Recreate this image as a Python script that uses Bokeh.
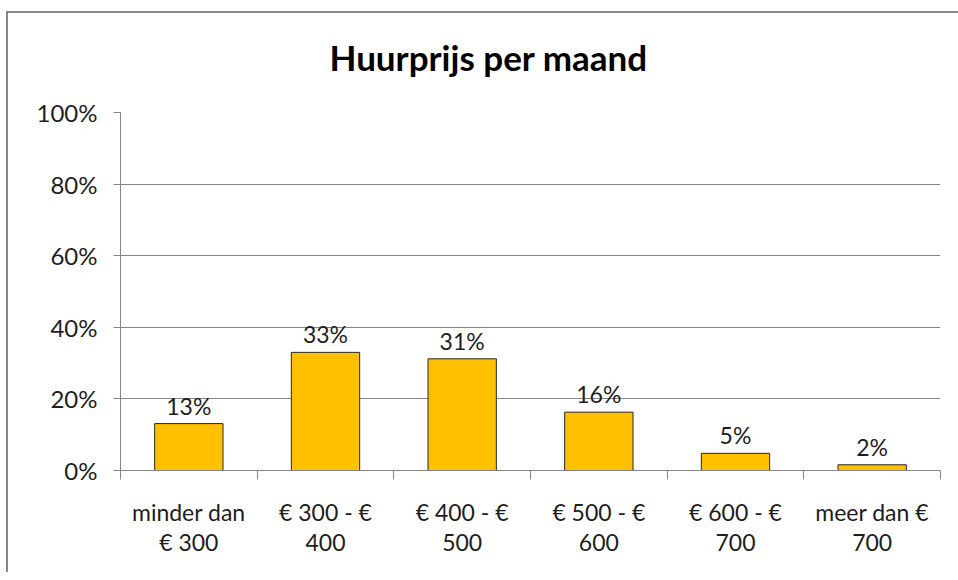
from bokeh.plotting import figure
from bokeh.models import Range1d, FixedTicker, PrintfTickFormatter, Title
from bokeh.core.properties import value
from bokeh.embed import file_html
from bokeh.resources import INLINE

# ---- data ----
title_text = "Huurprijs per maand"
categories = ["minder dan € 300", "€ 300 - € 400", "€ 400 - € 500",
              "€ 500 - € 600", "€ 600 - € 700", "meer dan € 700"]
tick_labels = ["minder dan\n€ 300", "€ 300 - €\n400", "€ 400 - €\n500",
               "€ 500 - €\n600", "€ 600 - €\n700", "meer dan €\n700"]
values = [13.1, 33.0, 31.2, 16.3, 4.8, 1.6]   # percent
y_ticks = [0, 20, 40, 60, 80, 100]

FONT = "Lato"
GRAY = "#868686"
TXT = "#1e1e1e"

n = len(categories)
centers = [i + 0.5 for i in range(n)]
bounds = list(range(n + 1))
labels = [f"{round(v)}%" for v in values]

# outer chart border (left + top) drawn as inset shadows behind a transparent canvas
border_css = ("inset 0px 11px 0px 0px #ffffff, inset 6px 0px 0px 0px #ffffff, "
              f"inset 0px 13px 0px 0px {GRAY}, inset 8px 0px 0px 0px {GRAY}")

p = figure(width=958, height=572, output_backend="svg", toolbar_location=None,
           x_range=Range1d(0, n), y_range=Range1d(0, 100),
           min_border_left=120, min_border_right=18,
           min_border_top=112, min_border_bottom=102,
           styles={"box-shadow": border_css, "background-color": "#ffffff"})
p.outline_line_color = None
p.background_fill_color = "white"
p.border_fill_color = None

t = Title(text=title_text, align="left", offset=209, text_font=FONT,
          text_font_size="35px", text_font_style="bold", text_color="#000000",
          vertical_align="top", standoff=66)
p.title = t

p.vbar(x=centers, top=values, width=0.5, fill_color="#FFC000",
       line_color="#262626", line_width=1)

p.text(x=centers, y=values, text=labels, text_align="center",
       text_baseline="alphabetic", y_offset=-18,
       text_font=value(FONT), text_font_size="23px", text_color=TXT)

# y axis
ya = p.yaxis[0]
ya.ticker = FixedTicker(ticks=y_ticks)
ya.formatter = PrintfTickFormatter(format="%d%%")
ya.axis_line_color = GRAY
ya.major_tick_line_color = GRAY
ya.major_tick_out = 7
ya.major_tick_in = 0
ya.minor_tick_line_color = None
ya.major_label_text_font = FONT
ya.major_label_text_font_size = "24px"
ya.major_label_text_color = TXT
ya.major_label_standoff = 16

# x axis
xa = p.xaxis[0]
xa.ticker = FixedTicker(ticks=centers, minor_ticks=bounds)
xa.major_label_overrides = {c: lab for c, lab in zip(centers, tick_labels)}
xa.axis_line_color = GRAY
xa.major_tick_line_color = None
xa.minor_tick_line_color = GRAY
xa.minor_tick_out = 9
xa.minor_tick_in = 0
xa.major_label_text_font = FONT
xa.major_label_text_font_size = "23px"
xa.major_label_text_color = TXT
xa.major_label_text_line_height = 1.08
xa.major_label_standoff = 18

p.xgrid.grid_line_color = None
p.ygrid.grid_line_color = GRAY
p.ygrid.grid_line_width = 1

open("out.html", "w").write(file_html(p, INLINE))
